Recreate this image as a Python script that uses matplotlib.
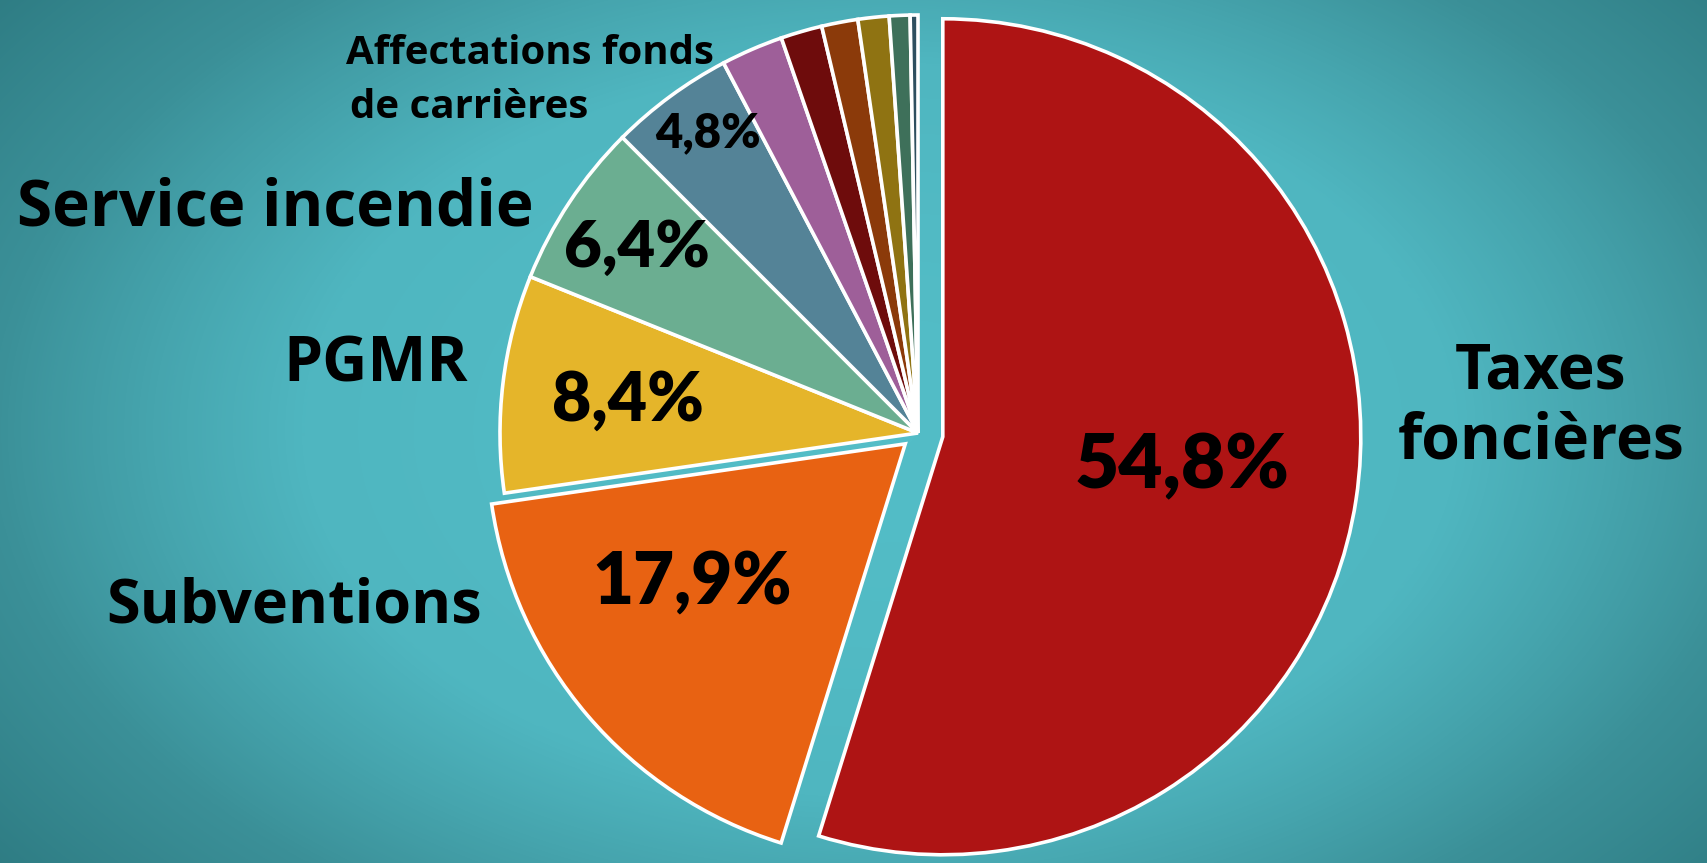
import numpy as np
import matplotlib
matplotlib.use("Agg")
import matplotlib.pyplot as plt
from matplotlib.colors import LinearSegmentedColormap

# ---- data ----
categories = ["Taxes foncières", "Subventions", "PGMR", "Service incendie",
              "Affectations fonds de carrières", "Autre 1", "Autre 2", "Autre 3",
              "Autre 4", "Autre 5", "Autre 6"]
values = [54.8, 17.9, 8.4, 6.4, 4.8, 2.4, 1.6, 1.4, 1.2, 0.8, 0.3]
pct_labels = ["54,8%", "17,9%", "8,4%", "6,4%", "4,8%"]
colors = ["#AE1414", "#E86212", "#E5B52A", "#6BAE91", "#548397", "#9E5F99",
          "#6E0C0C", "#8B3A0A", "#8F7312", "#3E705A", "#2E4F5F"]
explode = [0.06, 0.04, 0, 0, 0, 0, 0, 0, 0, 0, 0]

W, H = 1708, 863
fig = plt.figure(figsize=(W / 100, H / 100), dpi=100)

# background radial gradient
bg = fig.add_axes([0, 0, 1, 1])
yy, xx = np.mgrid[0:H, 0:W]
d = np.sqrt(((xx - 880) / 880.0) ** 2 + ((yy - 430) / 560.0) ** 2)
d = np.clip(d / 1.3, 0, 1) ** 1.6
cmap = LinearSegmentedColormap.from_list("bg", ["#53BDC7", "#4FB6C0", "#3B9098", "#2D7A81"])
bg.imshow(d, cmap=cmap, aspect="auto", extent=[0, W, H, 0], vmin=0, vmax=1)
bg.axis("off")

# pie
cx, cy, r = 918, 433, 418
ax = fig.add_axes([(cx - r) / W, (H - cy - r) / H, 2 * r / W, 2 * r / H])
wedges, _ = ax.pie(values, colors=colors, startangle=90, counterclock=False,
                   explode=explode, radius=1,
                   wedgeprops=dict(edgecolor="white", linewidth=2.6))
ax.set_xlim(-1, 1)
ax.set_ylim(-1, 1)
ax.set_aspect("equal")
ax.axis("off")

lab_fam = ["Open Sans", "DejaVu Sans"]
pct_fam = ["Lato", "DejaVu Sans"]

def ft(x, y, s, size, fam, ha="center", va="center", weight="bold", ls=1.0):
    fig.text(x / W, 1 - y / H, s, fontsize=size, ha=ha, va=va,
             fontweight=weight, family=fam, color="black", linespacing=ls)

# category labels
ft(1541, 407, "Taxes\nfoncières", 45, lab_fam, ls=1.15)
ft(482, 607, "Subventions", 44, lab_fam, ha="right")
ft(468, 365, "PGMR", 45, lab_fam, ha="right")
ft(534, 209, "Service incendie", 46, lab_fam, ha="right")
ft(346, 53, "Affectations fonds", 29, lab_fam, ha="left")
ft(350, 107, "de carrières", 29, lab_fam, ha="left")

# percentage labels
ft(1182, 466, pct_labels[0], 55, pct_fam, weight="heavy")
ft(692, 583, pct_labels[1], 51, pct_fam, weight="heavy")
ft(628, 401, pct_labels[2], 49, pct_fam, weight="heavy")
ft(637, 248, pct_labels[3], 47, pct_fam, weight="heavy")
ft(708, 133, pct_labels[4], 34, pct_fam, weight="heavy")

fig.savefig("out.png", dpi=100)
